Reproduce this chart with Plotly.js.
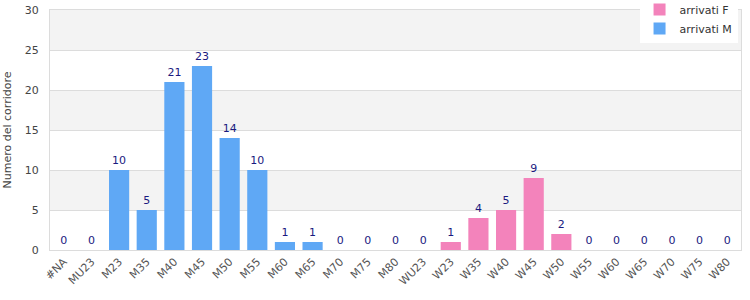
<!DOCTYPE html>
<html><head><meta charset="utf-8">
<script src="https://cdn.plot.ly/plotly-3.0.1.min.js"></script>
<style>html,body{margin:0;padding:0;background:#fff}#c{width:750px;height:300px}</style>
</head><body><div id="c"></div>
<script>
const categories = ["#NA","MU23","M23","M35","M40","M45","M50","M55","M60","M65","M70","M75","M80","WU23","W23","W35","W40","W45","W50","W55","W60","W65","W70","W75","W80"];
const arrivatiM = [0,0,10,5,21,23,14,10,1,1,0,0,0,null,null,null,null,null,null,null,null,null,null,null,null];
const arrivatiF = [null,null,null,null,null,null,null,null,null,null,null,null,null,0,1,4,5,9,2,0,0,0,0,0,0];
const yTicks = [0,5,10,15,20,25,30];
const bands = [[5,10],[15,20],[25,30]];

const txt = a => a.map(v => v === null ? "" : String(v));
const traces = [
  {type:"bar", name:"arrivati F", x:categories, y:arrivatiF, text:txt(arrivatiF), textposition:"outside",
   textfont:{color:"#1a1a80", size:11, family:"DejaVu Sans, sans-serif"}, cliponaxis:false,
   marker:{color:"#f383bb", line:{width:0}}},
  {type:"bar", name:"arrivati M", x:categories, y:arrivatiM, text:txt(arrivatiM), textposition:"outside",
   textfont:{color:"#1a1a80", size:11, family:"DejaVu Sans, sans-serif"}, cliponaxis:false,
   marker:{color:"#5fa8f5", line:{width:0}}}
];
const shapes = bands.map(b => ({type:"rect", xref:"paper", yref:"y", x0:0, x1:1, y0:b[0], y1:b[1],
  fillcolor:"#f3f3f3", line:{width:0}, layer:"below"}));
const layout = {
  width:750, height:300,
  margin:{l:50, r:9, t:10, b:50, pad:0, autoexpand:false},
  barmode:"overlay", bargap:0.27,
  paper_bgcolor:"#fff", plot_bgcolor:"#fff",
  font:{family:"DejaVu Sans, sans-serif", size:11, color:"#444"},
  showlegend:true,
  legend:{x:0.995, y:1.062, xanchor:"right", yanchor:"top", bgcolor:"#fff", borderwidth:0,
    font:{size:11, color:"#333"}, traceorder:"normal", itemwidth:30, tracegroupgap:0},
  shapes: shapes,
  xaxis:{type:"category", tickangle:-45, tickfont:{size:11, color:"#555"}, showgrid:false,
    showline:true, linecolor:"#dcdcdc", mirror:true, ticks:""},
  yaxis:{range:[0,30], tickvals:yTicks, tickfont:{size:11, color:"#444"}, showgrid:true, gridcolor:"#dcdcdc",
    showline:true, linecolor:"#dcdcdc", mirror:true, zeroline:false, ticks:"outside", ticklen:8, tickcolor:"rgba(0,0,0,0)",
    title:{text:"Numero del corridore", font:{size:11, color:"#444"}, standoff:10}}
};
Plotly.newPlot("c", traces, layout, {displayModeBar:false, staticPlot:true});
</script></body></html>
